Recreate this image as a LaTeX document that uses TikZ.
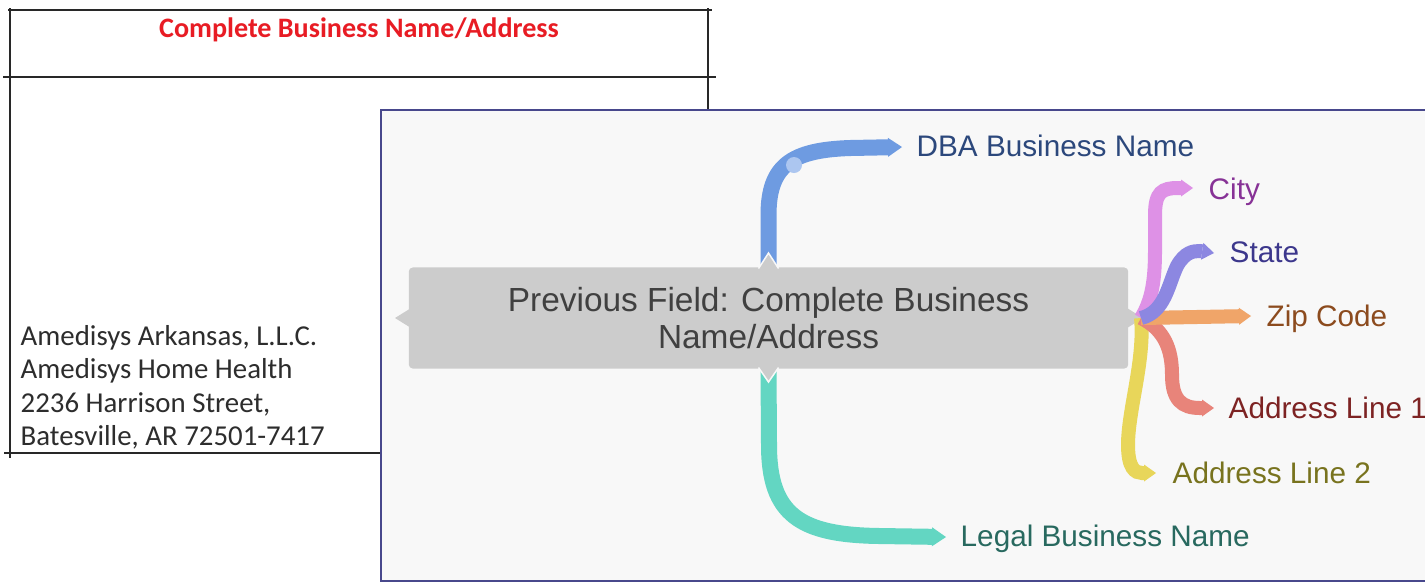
\documentclass[tikz,border=0pt]{standalone}
\usepackage{fontspec}
\setmainfont{Liberation Sans}
\newfontfamily\calib{Carlito}
\usetikzlibrary{arrows.meta}
\definecolor{tabline}{RGB}{40,40,40}
\definecolor{titlered}{RGB}{232,28,36}
\definecolor{addrtext}{RGB}{45,45,45}
\definecolor{panelbg}{RGB}{248,248,248}
\definecolor{panelborder}{RGB}{72,72,140}
\definecolor{boxgray}{RGB}{204,204,204}
\definecolor{boxtext}{RGB}{64,64,64}
\definecolor{cdba}{RGB}{110,155,225}
\definecolor{ccity}{RGB}{222,145,230}
\definecolor{cstate}{RGB}{140,135,225}
\definecolor{czip}{RGB}{240,165,105}
\definecolor{caone}{RGB}{232,132,122}
\definecolor{catwo}{RGB}{232,214,90}
\definecolor{clegal}{RGB}{99,214,194}
\definecolor{tdbacol}{RGB}{44,72,124}
\definecolor{tcitycol}{RGB}{135,50,150}
\definecolor{tstatecol}{RGB}{60,55,140}
\definecolor{tzipcol}{RGB}{140,75,30}
\definecolor{taonecol}{RGB}{125,35,35}
\definecolor{tatwocol}{RGB}{120,115,30}
\definecolor{tlegalcol}{RGB}{40,105,95}
\definecolor{dotcol}{RGB}{172,198,240}
\pgfdeclarelayer{back}
\pgfdeclarelayer{mid}
\pgfsetlayers{back,mid,main}
\tikzset{
  tabrule/.style={draw=tabline, line width=0.02cm},
  addrline/.style={font=\calib\fontsize{8.2}{9.5}\selectfont, text=addrtext, anchor=base west, inner sep=0},
  bigbranch/.style={line width=0.16cm, -{Triangle[length=0.14cm,width=0.19cm,line width=0pt]}},
  smallbranch/.style={line width=0.14cm, -{Triangle[length=0.12cm,width=0.17cm,line width=0pt]}},
  lbl/.style={font=\fontsize{8.45}{10}\selectfont, anchor=base west, inner sep=0},
  pointer/.style={fill=boxgray},
  notch/.style={draw=panelbg, line width=0.015cm, line join=miter},
}
\begin{document}
\begin{tikzpicture}[x=0.01cm,y=-0.01cm]
\useasboundingbox (0,0) rectangle (1425,584);
\begin{pgfonlayer}{back}
\fill[white] (0,0) rectangle (1425,584);
% table
\draw[tabrule] (8,10) -- (712,10);
\draw[tabrule] (3,77) -- (716,77);
\draw[tabrule] (10,8) -- (10,458);
\draw[tabrule] (708,8) -- (708,112);
\draw[tabrule] (4,453) -- (382,453);
% panel
\draw[draw=panelborder, fill=panelbg, line width=0.025cm] (381,110) rectangle (1440,581);
\end{pgfonlayer}
\node[font=\calib\bfseries\fontsize{8}{9.6}\selectfont, text=titlered, anchor=base, inner sep=0] (title) at (359,37) {Complete Business Name/Address};
\node[addrline] (a1) at (20,345) {Amedisys Arkansas, L.L.C.};
\node[addrline] (a2) at (20,378) {Amedisys Home Health};
\node[addrline] (a3) at (20,412) {2236 Harrison Street,};
\node[addrline] (a4) at (20,445) {Batesville, AR 72501-7417};
% central node
\node[fill=boxgray, rounded corners=0.04cm, minimum width=7.19cm, minimum height=1.01cm, inner sep=0,
      align=center, text=boxtext, font=\fontsize{9.5}{10.6}\selectfont] (main) at (768.5,318)
  {Previous Field: Complete Business\\Name/Address};
% labels
\node[lbl, text=tdbacol] (dba) at (916,156) {DBA Business Name};
\node[lbl, text=tcitycol] (city) at (1208,199) {City};
\node[lbl, text=tstatecol] (state) at (1229,262) {State};
\node[lbl, text=tzipcol] (zip) at (1266,326) {Zip Code};
\node[lbl, text=taonecol] (aone) at (1228,418) {Address Line 1};
\node[lbl, text=tatwocol] (atwo) at (1172,483) {Address Line 2};
\node[lbl, text=tlegalcol] (legal) at (960,546) {Legal Business Name};
% tip coordinates
\coordinate (tdba) at (902,147);
\coordinate (tlegal) at (946,537);
\coordinate (tcity) at (1193,188);
\coordinate (tstate) at (1214,253);
\coordinate (tzip) at (1251,316);
\coordinate (taone) at (1214,408);
\coordinate (tatwo) at (1156,473);
\coordinate (hub) at (1141,318);
% left pointer
\fill[pointer] (409.5,309) -- (395,318) -- (409.5,327) -- cycle;
\begin{pgfonlayer}{mid}
\draw[bigbranch, cdba] (main.north) -- (768.5,215) .. controls (768.5,165) and (792,150) .. (850,148) -- (tdba);
\fill[dotcol] (794,165) circle (8);
\draw[bigbranch, clegal] (main.south) -- (769,445) .. controls (769,515) and (800,535) .. (880,536) -- (tlegal);
\end{pgfonlayer}
\fill[pointer] (758.5,268.5) -- (768.5,253) -- (778.5,268.5) -- cycle;
\draw[notch] (758.5,268.5) -- (768.5,253) -- (778.5,268.5);
\fill[pointer] (758.5,367.5) -- (768.5,382) -- (778.5,367.5) -- cycle;
\draw[notch] (758.5,367.5) -- (768.5,382) -- (778.5,367.5);
\fill[pointer] (1127,308) -- (1143,318) -- (1127,328) -- cycle;
% right branches
\draw[smallbranch, catwo] (hub) .. controls (1145,360) and (1128,410) .. (1128,445) .. controls (1128,468) and (1135,473) .. (1142,473) -- (tatwo);
\draw[smallbranch, caone] (hub) .. controls (1165,330) and (1172,350) .. (1172,375) .. controls (1172,400) and (1182,408) .. (1200,408) -- (taone);
\draw[smallbranch, czip] (hub) -- (tzip);
\draw[smallbranch, ccity] (hub) .. controls (1152,300) and (1155,280) .. (1155,250) -- (1155,215) .. controls (1155,192) and (1162,188) .. (1178,188) -- (tcity);
\draw[smallbranch, cstate] (hub) .. controls (1165,312) and (1168,285) .. (1177,266) .. controls (1185,252) and (1193,251) .. (1200,251) -- (tstate);
\end{tikzpicture}
\end{document}
